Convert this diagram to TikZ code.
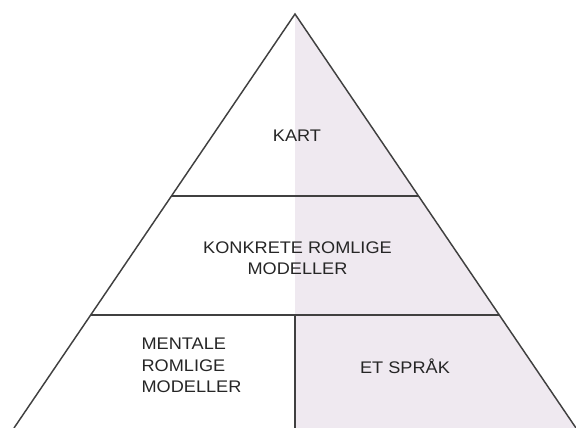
\documentclass[tikz,border=0pt]{standalone}
\usepackage{fontspec}
\setmainfont{Liberation Sans}[FakeStretch=1.08]
\usepackage{tikz}
\usetikzlibrary{positioning}
\usepackage{xcolor}
\definecolor{lilla}{RGB}{239,233,240}
\definecolor{strek}{RGB}{64,64,64}

\tikzset{
  kant/.style={line width=1.1pt,draw=strek},
  tekst/.style={font=\fontsize{12.6pt}{16pt}\selectfont,align=center,inner sep=0pt,text=black!85}
}

\begin{document}
\begin{tikzpicture}[x=0.75pt,y=-0.75pt]
        \def\topx{295}
        \def\topy{14}
        \def\bunn{428}
        \def\hv{90.7}
        \def\hh{499.3}

        \useasboundingbox (0,0) rectangle (576,428);

        %------------------
        % fylling
        %------------------

        % høyre halvdel
        \fill[lilla] (\topx,\topy) -- (576,\bunn) -- (\topx,\bunn) -- cycle;

        %------------------
        % kanter
        %------------------

        \coordinate (topp) at (\topx,\topy);
        \coordinate (vbunn) at (14,\bunn);
        \coordinate (hbunn) at (576,\bunn);
        \draw[kant,line join=miter] (vbunn) -- (topp) -- (hbunn);

        % skillelinjer
        \draw[kant] (171.5,196) -- (418.5,196);
        \draw[kant] (\hv,315) -- (\hh,315);
        \draw[kant] (\topx,315) -- (\topx,\bunn);

        %------------------
        % tekster
        %------------------

        \node[tekst] (kart) at (297,135.5) {KART};
        \node[tekst] (konkret) at (297.5,258.5) {KONKRETE ROMLIGE\\MODELLER};
        \node[tekst,align=left] (mental) at (191.5,365.5) {MENTALE\\ROMLIGE\\MODELLER};
        \node[tekst] (spraak) at (405,366) {ET SPRÅK};
      \end{tikzpicture}
\end{document}
